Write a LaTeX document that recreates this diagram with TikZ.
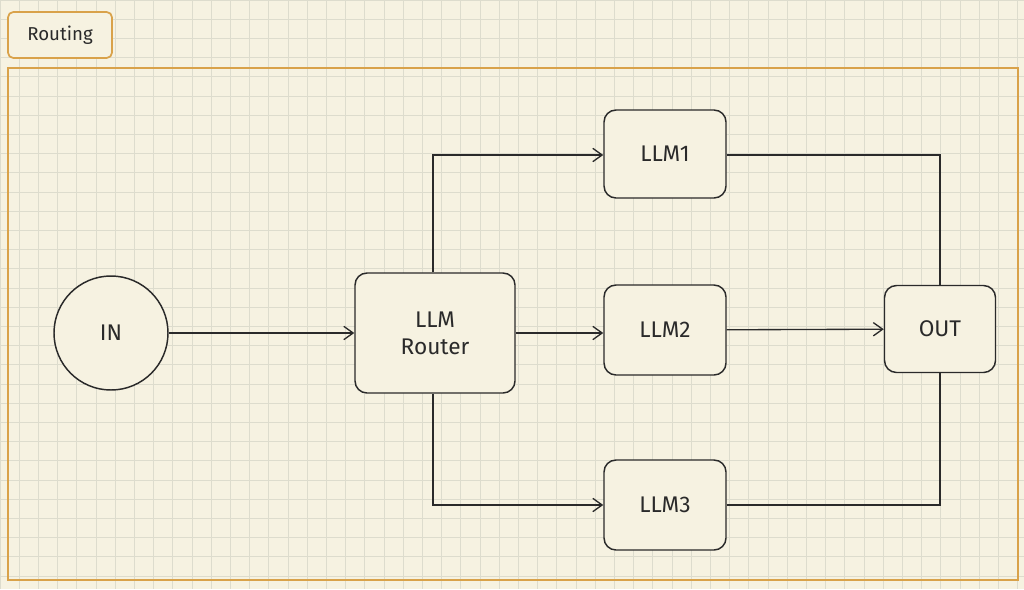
\documentclass[tikz,border=0pt]{standalone}
\usepackage{fontspec}
\setmainfont{Fira Sans}
\usetikzlibrary{arrows.meta}
\definecolor{paper}{HTML}{F6F2E1}
\definecolor{gridc}{HTML}{DDDCCD}
\definecolor{frame}{HTML}{D9A24A}
\definecolor{ink}{HTML}{2A2A2A}
\begin{document}
\begin{tikzpicture}[x=0.75pt,y=-0.75pt,
  box/.style={draw=ink,line width=1.1pt,rounded corners=9pt,fill=paper,font=\fontsize{17}{20}\selectfont,text=ink,align=center},
  conn/.style={draw=ink,line width=1pt},
  arr/.style={conn,-{Straight Barb[length=7pt,width=10pt]}}]
\fill[paper] (0,0) rectangle (1024,589);
\useasboundingbox (0,0) rectangle (1024,589);
\foreach \x in {0,19.2,...,1024} \draw[gridc,line width=0.5pt] (\x,0) -- (\x,589);
\foreach \y in {0,19.2,...,589} \draw[gridc,line width=0.5pt] (0,\y) -- (1024,\y);
\draw[frame,line width=1.3pt] (8,68) rectangle (1018,580);
\node[draw=frame,line width=1.3pt,rounded corners=4pt,fill=paper,minimum width=104pt*0.75,minimum height=46pt*0.75,font=\fontsize{14}{16}\selectfont,text=ink] (title) at (60,35) {Routing};
\node[draw=ink,line width=1.1pt,circle,minimum size=114*0.75pt,fill=paper,font=\fontsize{17}{20}\selectfont,text=ink] (in) at (111,333) {IN};
\node[box,minimum width=160*0.75pt,minimum height=120*0.75pt] (router) at (435,333) {LLM\\Router};
\node[box,minimum width=122*0.75pt,minimum height=88*0.75pt] (l1) at (665,154) {LLM1};
\node[box,minimum width=122*0.75pt,minimum height=90*0.75pt] (l2) at (665,330) {LLM2};
\node[box,minimum width=122*0.75pt,minimum height=90*0.75pt] (l3) at (665,505) {LLM3};
\node[box,minimum width=111*0.75pt,minimum height=87*0.75pt] (out) at (940,329) {OUT};
\draw[arr] (in) -- (router);
\draw[arr] (router.east|-0,333) -- (l2.west|-0,333);
\draw[arr] (l2) -- (out);
\draw[arr] (router.north -| 433,0) |- (l1.west|-0,155);
\draw[arr] (router.south -| 433,0) |- (l3.west|-0,505);
\draw[conn] (l1.east|-0,155) -| (out.north);
\draw[conn] (l3.east) -| (out.south);
\end{tikzpicture}
\end{document}
